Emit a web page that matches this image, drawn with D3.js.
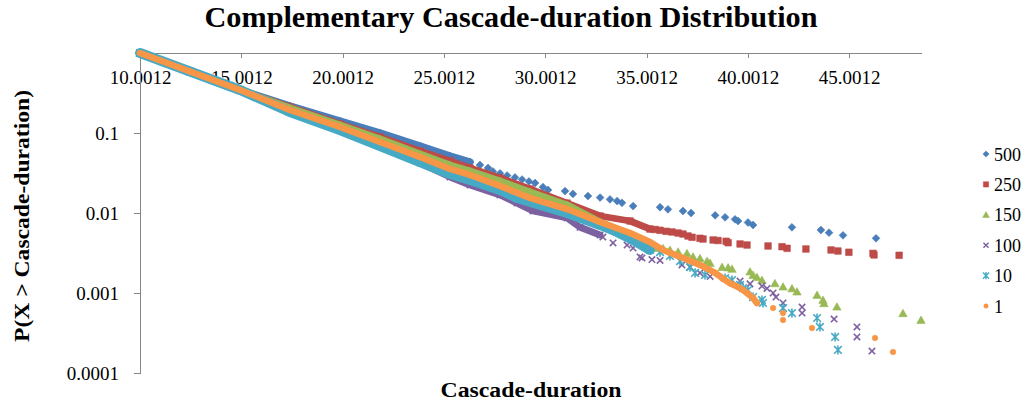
<!DOCTYPE html>
<html>
<head>
<meta charset="utf-8">
<script src="https://cdn.jsdelivr.net/npm/d3@7"></script>
<style>
  body { margin: 0; background: #fff; }
  svg { display: block; }
</style>
</head>
<body>
<svg id="chart" width="1025" height="407"></svg>
<script>
// series names in legend order (also draw order)
const seriesNames = ["500", "250", "150", "100", "10", "1"]
const xTicks = [10.0012, 15.0012, 20.0012, 25.0012, 30.0012, 35.0012, 40.0012, 45.0012]
const yTicks = [0.1, 0.01, 0.001, 0.0001]
const yTickLabels = ["0.1", "0.01", "0.001", "0.0001"]

// [cascade-duration, P(X > duration)]
// dense part of each series (markers overlap into a band)
const band500 = [[10.0012,1],[12.47,0.587],[14.94,0.345],[17.40,0.2175],[19.87,0.141],[21.85,0.100],[23.82,0.0688],[25.30,0.0516],[26.29,0.0434]]
const tail500 = [[26.78,0.0398],[27.18,0.0365],[27.42,0.0330],[27.77,0.0313],[28.12,0.0294],[28.51,0.0278],[28.86,0.0262],[29.20,0.0248],[29.50,0.0237],[29.89,0.0211],[30.14,0.0194],[30.98,0.0188],[31.37,0.0173],[32.11,0.0163],[32.71,0.0156],[33.20,0.0148],[33.55,0.0141],[33.79,0.0134],[34.34,0.0122],[35.67,0.0118],[36.06,0.0111],[36.80,0.0106],[37.20,0.0100],[38.39,0.00936],[38.88,0.00884],[39.37,0.00834],[39.52,0.00794],[40.01,0.00761],[40.26,0.00708],[42.18,0.00663],[43.61,0.00613],[44.01,0.00567],[44.70,0.00526],[46.33,0.00483]]

const band250 = [[10.0012,1],[12.47,0.587],[14.94,0.345],[17.40,0.211],[19.87,0.1296],[21.85,0.0891],[23.82,0.0596],[25.30,0.0447],[26.29,0.0365],[27.77,0.0274],[29.25,0.0200],[31.08,0.0133],[32.71,0.00917],[34.19,0.00794],[35.17,0.00631]]
const tail250 = [[35.42,0.00622],[35.67,0.00608],[35.97,0.00590],[36.26,0.00579],[36.56,0.00562],[36.80,0.00546],[37.05,0.00516],[37.25,0.00497],[37.64,0.00483],[37.79,0.00473],[38.29,0.00460],[38.53,0.00453],[38.93,0.00443],[39.03,0.00425],[39.62,0.00410],[39.96,0.00398],[41.00,0.00387],[41.69,0.00379],[41.94,0.00362],[42.87,0.00355],[44.11,0.00345],[44.45,0.00335],[44.99,0.00323],[46.18,0.00313],[46.23,0.00299],[47.47,0.00296]]

const band150 = [[10.0012,1],[12.47,0.587],[14.94,0.345],[17.40,0.2054],[19.87,0.126],[21.85,0.0841],[23.82,0.0546],[25.30,0.0398],[26.29,0.0335],[27.77,0.0251],[29.25,0.0183],[31.08,0.0126],[32.71,0.00772],[34.19,0.00531],[35.17,0.00387]]
const tail150 = [[35.42,0.00365],[35.82,0.00362],[36.16,0.00345],[36.56,0.00328],[37.00,0.00313],[37.30,0.00284],[37.64,0.00272],[37.99,0.00251],[38.14,0.00237],[38.73,0.00211],[39.03,0.00208],[39.22,0.00200],[40.11,0.00185],[40.26,0.00168],[40.45,0.00158],[40.70,0.00145],[41.34,0.00132],[41.74,0.00120],[42.18,0.00114],[42.43,0.00104],[43.42,0.000944],[43.71,0.000818],[43.76,0.000743],[44.40,0.000674],[47.66,0.000557],[48.55,0.000460]]

const band100 = [[10.0012,1],[12.47,0.587],[14.94,0.345],[17.40,0.188],[19.87,0.112],[21.85,0.0688],[23.82,0.0422],[25.30,0.0282],[26.29,0.0224],[27.77,0.0168],[28.61,0.0133],[29.40,0.0106],[31.08,0.00866],[31.72,0.00663],[32.71,0.00531]]
const tail100 = [[32.85,0.00501],[33.35,0.00422],[34.04,0.00398],[34.34,0.00365],[34.68,0.00282],[34.78,0.00274],[35.27,0.00262],[35.67,0.00255],[36.75,0.00224],[37.15,0.00211],[37.64,0.00178],[38.14,0.00161],[39.62,0.00141],[40.11,0.00130],[40.70,0.00122],[40.95,0.00114],[41.25,0.00100],[41.39,0.000891],[41.74,0.000750],[42.68,0.000668],[42.68,0.000562],[44.26,0.000473],[45.39,0.000376],[45.39,0.000282],[46.13,0.000188]]

const band10 = [[10.0012,1],[12.47,0.587],[14.94,0.345],[17.40,0.183],[19.87,0.109],[21.85,0.0688],[23.82,0.0434],[25.30,0.0307],[26.29,0.0259],[27.77,0.0194],[28.61,0.0154],[31.08,0.0100],[32.71,0.00708],[33.55,0.00579],[34.34,0.00460],[35.17,0.00345]]
const tail10 = [[35.67,0.00325],[36.16,0.00290],[36.66,0.00251],[37.15,0.00211],[37.40,0.00178],[37.89,0.00168],[38.88,0.00154],[39.22,0.00145],[39.62,0.00126],[39.77,0.00115],[40.01,0.00109],[40.26,0.000891],[40.70,0.000818],[40.75,0.000750],[41.74,0.000649],[42.18,0.000562],[43.42,0.000487],[43.56,0.000376],[44.31,0.000282],[44.45,0.000194]]

const band1 = [[10.0012,1],[12.47,0.587],[14.94,0.345],[17.40,0.194],[19.87,0.119],[21.85,0.0772],[23.82,0.0501],[25.30,0.0355],[26.29,0.0299],[27.77,0.0218],[29.25,0.0154],[31.08,0.0112],[32.71,0.00772],[34.19,0.00562],[35.17,0.00434],[35.82,0.00345],[36.80,0.00274],[37.64,0.00224],[38.39,0.00178],[38.73,0.00154],[39.13,0.00132],[39.52,0.00119],[39.77,0.00109],[40.26,0.000866],[40.45,0.000750]]
const tail1 = [[41.25,0.000649],[41.74,0.000562],[41.74,0.000460],[43.17,0.000365],[46.28,0.000274],[47.17,0.000183]]

const serif = '"Liberation Serif", "Times New Roman", serif'

const svg = d3.select("#chart")
svg.append("rect").attr("width", 1025).attr("height", 407).attr("fill", "#fff")

const x = d3.scaleLinear().domain([10.0012, 48.55]).range([140, 921])
const y = d3.scaleLog().domain([0.0001, 1]).range([373, 53])

// marker shapes, centred on 0,0
const shapes = {
  diamond: (s) => `M0,${-3.9*s}L${3.9*s},0L0,${3.9*s}L${-3.9*s},0Z`,
  square: (s) => `M${-3.3*s},${-3.3*s}h${6.6*s}v${6.6*s}h${-6.6*s}Z`,
  triangle: (s) => `M0,${-4*s}L${4.2*s},${3.4*s}L${-4.2*s},${3.4*s}Z`,
  cross: (s) => `M${-3.2*s},${-3.2*s}L${3.2*s},${3.2*s}M${3.2*s},${-3.2*s}L${-3.2*s},${3.2*s}`,
  star: (s) => `M${-3.8*s},${-3.8*s}L${3.8*s},${3.8*s}M${3.8*s},${-3.8*s}L${-3.8*s},${3.8*s}M0,${-4.6*s}L0,${4.6*s}`,
  circle: (s) => d3.arc()({innerRadius: 0, outerRadius: 2.8*s, startAngle: 0, endAngle: 2*Math.PI})
}

const series = [
  {band: band500, tail: tail500, color: "#4A7EBB", shape: "diamond", bw: 7.5, filled: true},
  {band: band250, tail: tail250, color: "#BE4B48", shape: "square", bw: 6.8, filled: true},
  {band: band150, tail: tail150, color: "#98B954", shape: "triangle", bw: 7, filled: true},
  {band: band100, tail: tail100, color: "#7D60A0", shape: "cross", bw: 6.8, filled: false},
  {band: band10, tail: tail10, color: "#46AAC5", shape: "star", bw: 10, filled: false},
  {band: band1, tail: tail1, color: "#F79646", shape: "circle", bw: 6.5, filled: true}
]

// axes
const xAxis = svg.append("g")
  .attr("transform", "translate(0,53)")
  .call(d3.axisBottom(x).tickValues(xTicks).tickFormat(d => d.toFixed(4))
    .tickSizeInner(5).tickSizeOuter(0).tickPadding(13))
const yAxis = svg.append("g")
  .attr("transform", "translate(140,0)")
  .call(d3.axisLeft(y).tickValues(yTicks).tickFormat((d, i) => yTickLabels[i])
    .tickSizeInner(6).tickSizeOuter(0).tickPadding(15))

;[xAxis, yAxis].forEach(g => {
  g.selectAll("path, line").attr("stroke", "#868686").attr("shape-rendering", "crispEdges")
  g.selectAll("text").attr("font-family", serif).attr("font-size", 19).attr("fill", "#000")
})

// points
const line = d3.line().x(d => x(d[0])).y(d => y(d[1]))

series.forEach((s, i) => {
  const g = svg.append("g").attr("class", "series-" + seriesNames[i])

  g.append("path")
    .datum(s.band)
    .attr("d", line)
    .attr("fill", "none")
    .attr("stroke", s.color)
    .attr("stroke-width", s.bw)
    .attr("stroke-linecap", "round")
    .attr("stroke-linejoin", "round")

  g.selectAll("path.mark")
    .data(s.band.concat(s.tail))
    .join("path")
    .attr("class", "mark")
    .attr("transform", d => `translate(${x(d[0])},${y(d[1])})`)
    .attr("d", shapes[s.shape](1))
    .attr("fill", s.filled ? s.color : "none")
    .attr("stroke", s.color)
    .attr("stroke-width", s.filled ? 0.6 : 1.6)
})

// legend
const legend = svg.append("g")
seriesNames.forEach((name, i) => {
  const s = series[i]
  const ly = 154 + i * 30.4
  legend.append("path")
    .attr("transform", `translate(986,${ly})`)
    .attr("d", shapes[s.shape](0.8))
    .attr("fill", s.filled ? s.color : "none")
    .attr("stroke", s.color)
    .attr("stroke-width", s.filled ? 0.5 : 1.4)
  legend.append("text")
    .attr("x", 994)
    .attr("y", ly + 6.5)
    .attr("font-family", serif)
    .attr("font-size", 18)
    .text(name)
})

// titles
svg.append("text")
  .attr("x", 511).attr("y", 27)
  .attr("text-anchor", "middle")
  .attr("font-family", serif).attr("font-weight", "bold").attr("font-size", 29)
  .attr("textLength", 613).attr("lengthAdjust", "spacingAndGlyphs")
  .text("Complementary Cascade-duration Distribution")

svg.append("text")
  .attr("x", 531).attr("y", 397)
  .attr("text-anchor", "middle")
  .attr("font-family", serif).attr("font-weight", "bold").attr("font-size", 20)
  .attr("textLength", 181).attr("lengthAdjust", "spacingAndGlyphs")
  .text("Cascade-duration")

svg.append("text")
  .attr("transform", "translate(29,216) rotate(-90)")
  .attr("text-anchor", "middle")
  .attr("font-family", serif).attr("font-weight", "bold").attr("font-size", 21)
  .attr("textLength", 252).attr("lengthAdjust", "spacingAndGlyphs")
  .text("P(X > Cascade-duration)")
</script>
</body>
</html>
